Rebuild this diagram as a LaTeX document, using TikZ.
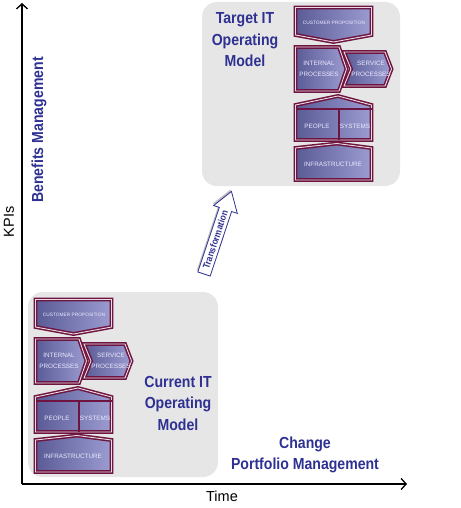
\documentclass[tikz,border=0pt]{standalone}
\usepackage{fontspec}
\setmainfont{Liberation Sans}
\newfontfamily\narrowfont[FakeStretch=0.88]{Liberation Sans}
\usepackage{tikz}
\usetikzlibrary{arrows.meta}

\definecolor{titleblue}{HTML}{2E3192}
\definecolor{boxgray}{HTML}{E6E6E6}
\definecolor{rimred}{HTML}{6E1440}
\definecolor{blockdark}{HTML}{5A5A96}
\definecolor{blocklight}{HTML}{9C9CD2}

\tikzset{
  block/.style={draw=rimred, double=white!85!rimred, line width=1.5pt,
    double distance=0.9pt, left color=blockdark, right color=blocklight},
  blocktext/.style={text=white!92!blue, font=\fontsize{6.3}{10.5}\selectfont,
    align=center, inner sep=0pt},
  heading/.style={text=titleblue, font=\narrowfont\bfseries\fontsize{16}{21.5}\selectfont,
    align=center},
  axislabel/.style={font=\fontsize{14.5}{16}\selectfont},
  panel/.style={fill=boxgray, rounded corners=15pt}
}

\begin{document}
\begin{tikzpicture}[x=1pt, y=-1pt, >={Straight Barb[length=5pt, width=11pt]}]
    \useasboundingbox (0,0) rectangle (460,508);

    % -------------------------------------------------------
    % 1. Grey panels behind the two models
    % -------------------------------------------------------
    \fill[panel] (28,292) rectangle (218,477);
    \fill[panel] (202,2) rectangle (400,186);

    % -------------------------------------------------------
    % 2. Axes
    % -------------------------------------------------------
    \coordinate (origin) at (22,484);
    \coordinate (ytip) at (22,3);
    \coordinate (xtip) at (407,484);
    \draw[->, line width=1.3pt] (origin) -- (ytip);
    \draw[->, line width=1.3pt] (origin) -- (xtip);

    \node[axislabel, rotate=90] (kpis) at (9,222) {KPIs};
    \node[axislabel] (time) at (222,496) {Time};

    % -------------------------------------------------------
    % 3. Headings
    % -------------------------------------------------------
    \node[heading, rotate=90] (benefits) at (39,130) {Benefits Management};
    \node[heading] (change) at (305,455) {Change\\Portfolio Management};
    \node[heading] (target) at (245,40) {Target IT\\Operating\\Model};
    \node[heading] (current) at (178,403) {Current IT\\Operating\\Model};

    % -------------------------------------------------------
    % 4. Operating model stacks (current and target)
    % -------------------------------------------------------
    \foreach \m/\sx/\sy in {cur/33/297, tgt/293/5} {
      \begin{scope}[shift={(\sx,\sy)}]
        \draw[block] (2.5,2.5) -- (78.5,2.5) -- (78.5,30) -- (40.5,37) -- (2.5,30) -- cycle;
        \draw[block] (2.5,42) -- (46,42) -- (53.5,64) -- (46,86) -- (2.5,86) -- cycle;
        \draw[block] (51,47) -- (92,47) -- (98.5,64) -- (92,81) -- (51,81) -- (58,64) -- cycle;
        \draw[block] (2.5,100) -- (45,91) -- (78.5,100) -- (78.5,135) -- (2.5,135) -- cycle;
        \draw[rimred, line width=1.5pt] (2.5,104) -- (78.5,104) (46,104) -- (46,135);
        \draw[block] (2.5,143) -- (44,138.5) -- (78.5,143) -- (78.5,175) -- (2.5,175) -- cycle;

        \node[blocktext, font=\fontsize{4.8}{5}\selectfont] (\m-cust) at (41,18) {CUSTOMER PROPOSITION};
        \node[blocktext] (\m-int) at (26,64) {INTERNAL\\PROCESSES};
        \node[blocktext] (\m-serv) at (78,64) {SERVICE\\PROCESSES};
        \node[blocktext] (\m-people) at (24,121) {PEOPLE};
        \node[blocktext] (\m-sys) at (62,121) {SYSTEMS};
        \node[blocktext] (\m-infra) at (40,159) {INFRASTRUCTURE};
      \end{scope}
    }

    % -------------------------------------------------------
    % 5. Transformation arrow
    % -------------------------------------------------------
    \begin{scope}[shift={(204,274)}, rotate=71.6]
      \fill[black, opacity=0.25, shift={(1.5,-1.5)}]
        (0,-6.5) -- (68,-6.5) -- (68,-12.5) -- (87,0) -- (68,12.5) -- (68,6.5) -- (0,6.5) -- cycle;
      \draw[titleblue, fill=white, line width=0.8pt, line join=miter]
        (0,-6.5) -- (68,-6.5) -- (68,-12.5) -- (87,0) -- (68,12.5) -- (68,6.5) -- (0,6.5) -- cycle;
      \node[rotate=71.6, text=titleblue, inner sep=0pt,
        font=\narrowfont\bfseries\fontsize{9.5}{10}\selectfont] (transform) at (36,0) {Transformation};
    \end{scope}
\end{tikzpicture}
\end{document}
